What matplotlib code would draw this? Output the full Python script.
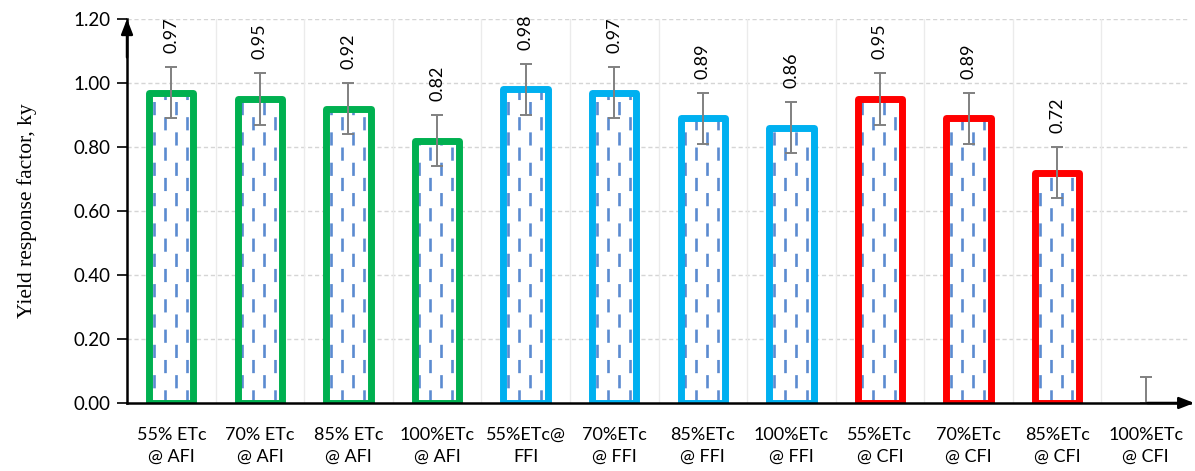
import matplotlib
matplotlib.use("Agg")
import matplotlib.pyplot as plt
from matplotlib.patches import Rectangle
import numpy as np

categories = ['55% ETc\n@ AFI', '70% ETc\n@ AFI', '85% ETc\n@ AFI', '100%ETc\n@ AFI',
              '55%ETc@\nFFI', '70%ETc\n@ FFI', '85%ETc\n@ FFI', '100%ETc\n@ FFI',
              '55%ETc\n@ CFI', '70%ETc\n@ CFI', '85%ETc\n@ CFI', '100%ETc\n@ CFI']
values = [0.97, 0.95, 0.92, 0.82, 0.98, 0.97, 0.89, 0.86, 0.95, 0.89, 0.72, 0.00]
errors = [0.08, 0.08, 0.08, 0.08, 0.08, 0.08, 0.08, 0.08, 0.08, 0.08, 0.08, 0.08]
groups = ['AFI'] * 4 + ['FFI'] * 4 + ['CFI'] * 4
group_colors = {'AFI': '#00B050', 'FFI': '#00B0F0', 'CFI': '#FF0000'}
yticks = [0.0, 0.2, 0.4, 0.6, 0.8, 1.0, 1.2]

fig = plt.figure(figsize=(11.95, 4.71), dpi=100)
ax = fig.add_axes([0.1063, 0.1444, 0.8895, 0.8153])

x = np.arange(len(categories))
width = 0.5
ax.set_xlim(-0.5, len(categories) - 0.5)
ax.set_ylim(0, 1.2)

# gridlines
for yv in yticks[1:]:
    ax.axhline(yv, color='#D5D5D5', lw=1, ls=(0, (3, 2)), zorder=0)
for b in np.arange(0.5, len(categories) - 0.5, 1.0):
    ax.axvline(b, color='#EBEBEB', lw=1, zorder=0)

nonzero = [i for i, v in enumerate(values) if v > 0]
xs = x[nonzero]
vs = [values[i] for i in nonzero]
cs = [group_colors[groups[i]] for i in nonzero]

# white fill
ax.bar(xs, vs, width=width, color='white', edgecolor='none', zorder=2)

# dashed vertical pattern inside bars
spacing = 0.124
for xi, v in zip(xs, vs):
    clip = Rectangle((xi - width / 2, 0), width, v, transform=ax.transData)
    for k in range(-3, 4):
        off = 0 if k % 2 == 0 else 5.75
        ln = ax.vlines(xi + (k - 0.6) * spacing, 0, v, colors='#5B8BD0', lw=1.9,
                       linestyles=[(off, (5, 6.5))], zorder=2.5)
        ln.set_clip_path(clip)

# outlined bars
ax.bar(xs, vs, width=width, facecolor='none', edgecolor=cs, linewidth=5,
       joinstyle='round', zorder=3)

# error bars
ax.errorbar(x, values, yerr=[[min(e, v) for e, v in zip(errors, values)], errors],
            fmt='none', ecolor='#808080', elinewidth=1.4, capsize=4.5,
            capthick=1.4, zorder=4)

# value labels
for xi, v, e in zip(x, values, errors):
    if v <= 0:
        continue
    ax.annotate(f'{v:.2f}', (xi, v + e), xytext=(0, 10), textcoords='offset points',
                rotation=90, ha='center', va='bottom', fontsize=13,
                family='Lato', zorder=5, annotation_clip=False)

# axes styling
for s in ['top', 'right']:
    ax.spines[s].set_visible(False)
ax.spines['left'].set_linewidth(1.8)
ax.spines['bottom'].set_linewidth(1.8)
ax.spines['left'].set_zorder(6)
ax.spines['bottom'].set_zorder(6)

ax.set_yticks(yticks)
ax.set_yticklabels([f'{t:.2f}' for t in yticks], fontsize=13.5, family='Lato')
ax.tick_params(axis='y', length=7, width=1.2, pad=5, direction='out')
ax.set_xticks(x)
ax.set_xticklabels(categories, fontsize=13, family='Lato', linespacing=1.5)
ax.tick_params(axis='x', length=0, pad=17)

ax.set_ylabel('Yield response factor, ky', fontsize=15.5, family='Liberation Serif',
              labelpad=26)

# arrows on axes
ax.annotate('', xy=(0, 1.0), xytext=(0, 0.9), xycoords='axes fraction',
            arrowprops=dict(arrowstyle='-|>,head_length=0.9,head_width=0.35',
                            color='black', lw=1.8, shrinkA=0, shrinkB=0),
            annotation_clip=False, zorder=7)
ax.annotate('', xy=(1.004, 0), xytext=(0.96, 0), xycoords='axes fraction',
            arrowprops=dict(arrowstyle='-|>,head_length=0.9,head_width=0.35',
                            color='black', lw=1.8, shrinkA=0, shrinkB=0),
            annotation_clip=False, zorder=7)

fig.savefig('out.png', dpi=100)
